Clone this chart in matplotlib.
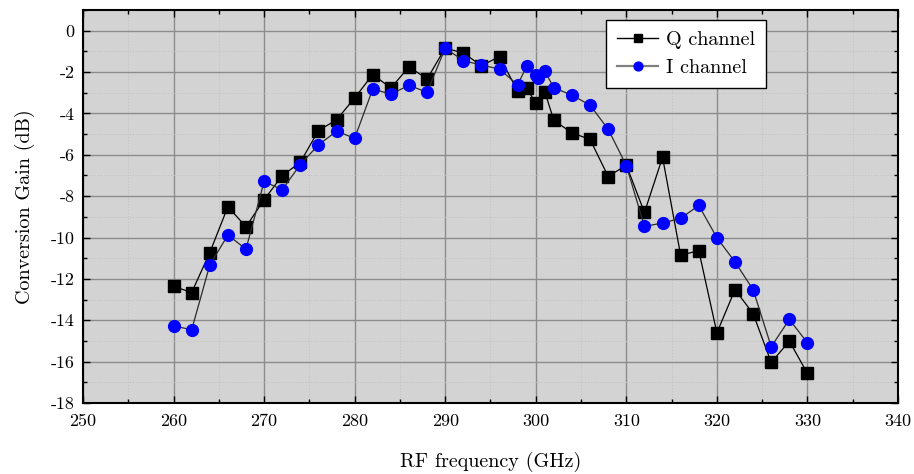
import matplotlib
matplotlib.use("Agg")
import matplotlib.pyplot as plt
from matplotlib.ticker import MultipleLocator

plt.rcParams['font.family'] = ['cmr10', 'DejaVu Serif']
plt.rcParams['axes.unicode_minus'] = False
plt.rcParams['axes.formatter.use_mathtext'] = False
plt.rcParams['mathtext.fontset'] = 'cm'

# Q channel measurement
q_freq = [260, 262, 264, 266, 268, 270, 272, 274, 276, 278, 280, 282, 284, 286,
          288, 290, 292, 294, 296, 298, 299, 300, 301, 302, 304, 306, 308, 310,
          312, 314, 316, 318, 320, 322, 324, 326, 328, 330]
q_gain = [-12.36, -12.66, -10.73, -8.51, -9.48, -8.17, -7.01, -6.36, -4.83, -4.31,
          -3.25, -2.12, -2.77, -1.75, -2.33, -0.84, -1.08, -1.69, -1.25, -2.93,
          -2.78, -3.5, -2.96, -4.34, -4.94, -5.26, -7.05, -6.5, -8.79, -6.12,
          -10.86, -10.63, -14.61, -12.52, -13.68, -16.04, -15.01, -16.57]

# I channel measurement
i_freq = [260, 262, 264, 266, 268, 270, 272, 274, 276, 278, 280, 282, 284, 286,
          288, 290, 292, 294, 296, 298, 299, 300, 300.2, 301, 302, 304, 306, 308,
          310, 312, 314, 316, 318, 320, 322, 324, 326, 328, 330]
i_gain = [-14.27, -14.46, -11.33, -9.88, -10.56, -7.29, -7.69, -6.47, -5.52, -4.86,
          -5.2, -2.82, -3.07, -2.64, -2.98, -0.84, -1.45, -1.66, -1.86, -2.62,
          -1.71, -2.12, -2.3, -1.96, -2.76, -3.12, -3.6, -4.77, -6.52, -9.46,
          -9.3, -9.07, -8.45, -10.01, -11.18, -12.52, -15.28, -13.96, -15.09]

fig = plt.figure(figsize=(9.14, 4.74), dpi=100)
ax = fig.add_axes([0.0908, 0.1498, 0.8917, 0.8291])
ax.set_facecolor('#d3d3d3')

ax.plot(q_freq, q_gain, color='black', lw=0.9, marker='s', ms=8,
        mfc='black', mec='black', label='Q channel', zorder=3)
ax.plot(i_freq, i_gain, color='#2a2a2a', lw=0.9, marker='o', ms=8.5,
        mfc='#0000ff', mec='#0000ff', label='I channel', zorder=4)

ax.set_xlim(250, 340)
ax.set_ylim(-18, 1)
ax.xaxis.set_major_locator(MultipleLocator(10))
ax.xaxis.set_minor_locator(MultipleLocator(5))
ax.yaxis.set_major_locator(MultipleLocator(2))
ax.yaxis.set_minor_locator(MultipleLocator(1))

ax.grid(which='major', color='#8c8c8c', lw=1.0, ls='-')
ax.grid(which='minor', color='#c0c0c0', lw=0.7, ls=(0, (1, 2)))
ax.set_axisbelow(True)

ax.tick_params(which='both', direction='in', top=True, right=True,
               labelsize=13, width=1.0, color='black')
ax.tick_params(which='major', length=5)
ax.tick_params(which='minor', length=3)
ax.tick_params(axis='x', which='major', pad=8)
ax.tick_params(axis='y', which='major', pad=6)
for s in ax.spines.values():
    s.set_linewidth(1.5)
    s.set_color('black')

ax.set_xlabel('RF frequency (GHz)', fontsize=14.5, labelpad=16)
ax.set_ylabel('Conversion Gain (dB)', fontsize=14.5, labelpad=11)

leg = ax.legend(loc='upper right', bbox_to_anchor=(0.838, 0.975), fontsize=14.5,
                frameon=True, fancybox=False, framealpha=1, edgecolor='black',
                handlelength=2.0, borderpad=0.55, labelspacing=0.5,
                handletextpad=0.4, borderaxespad=0.0, markerscale=0.75)
leg.get_frame().set_linewidth(1.0)
leg.get_lines()[1].set_color('#808080')
leg.get_lines()[1].set_linewidth(1.6)
leg.get_lines()[0].set_linewidth(1.0)

fig.savefig('out.png', dpi=100)
